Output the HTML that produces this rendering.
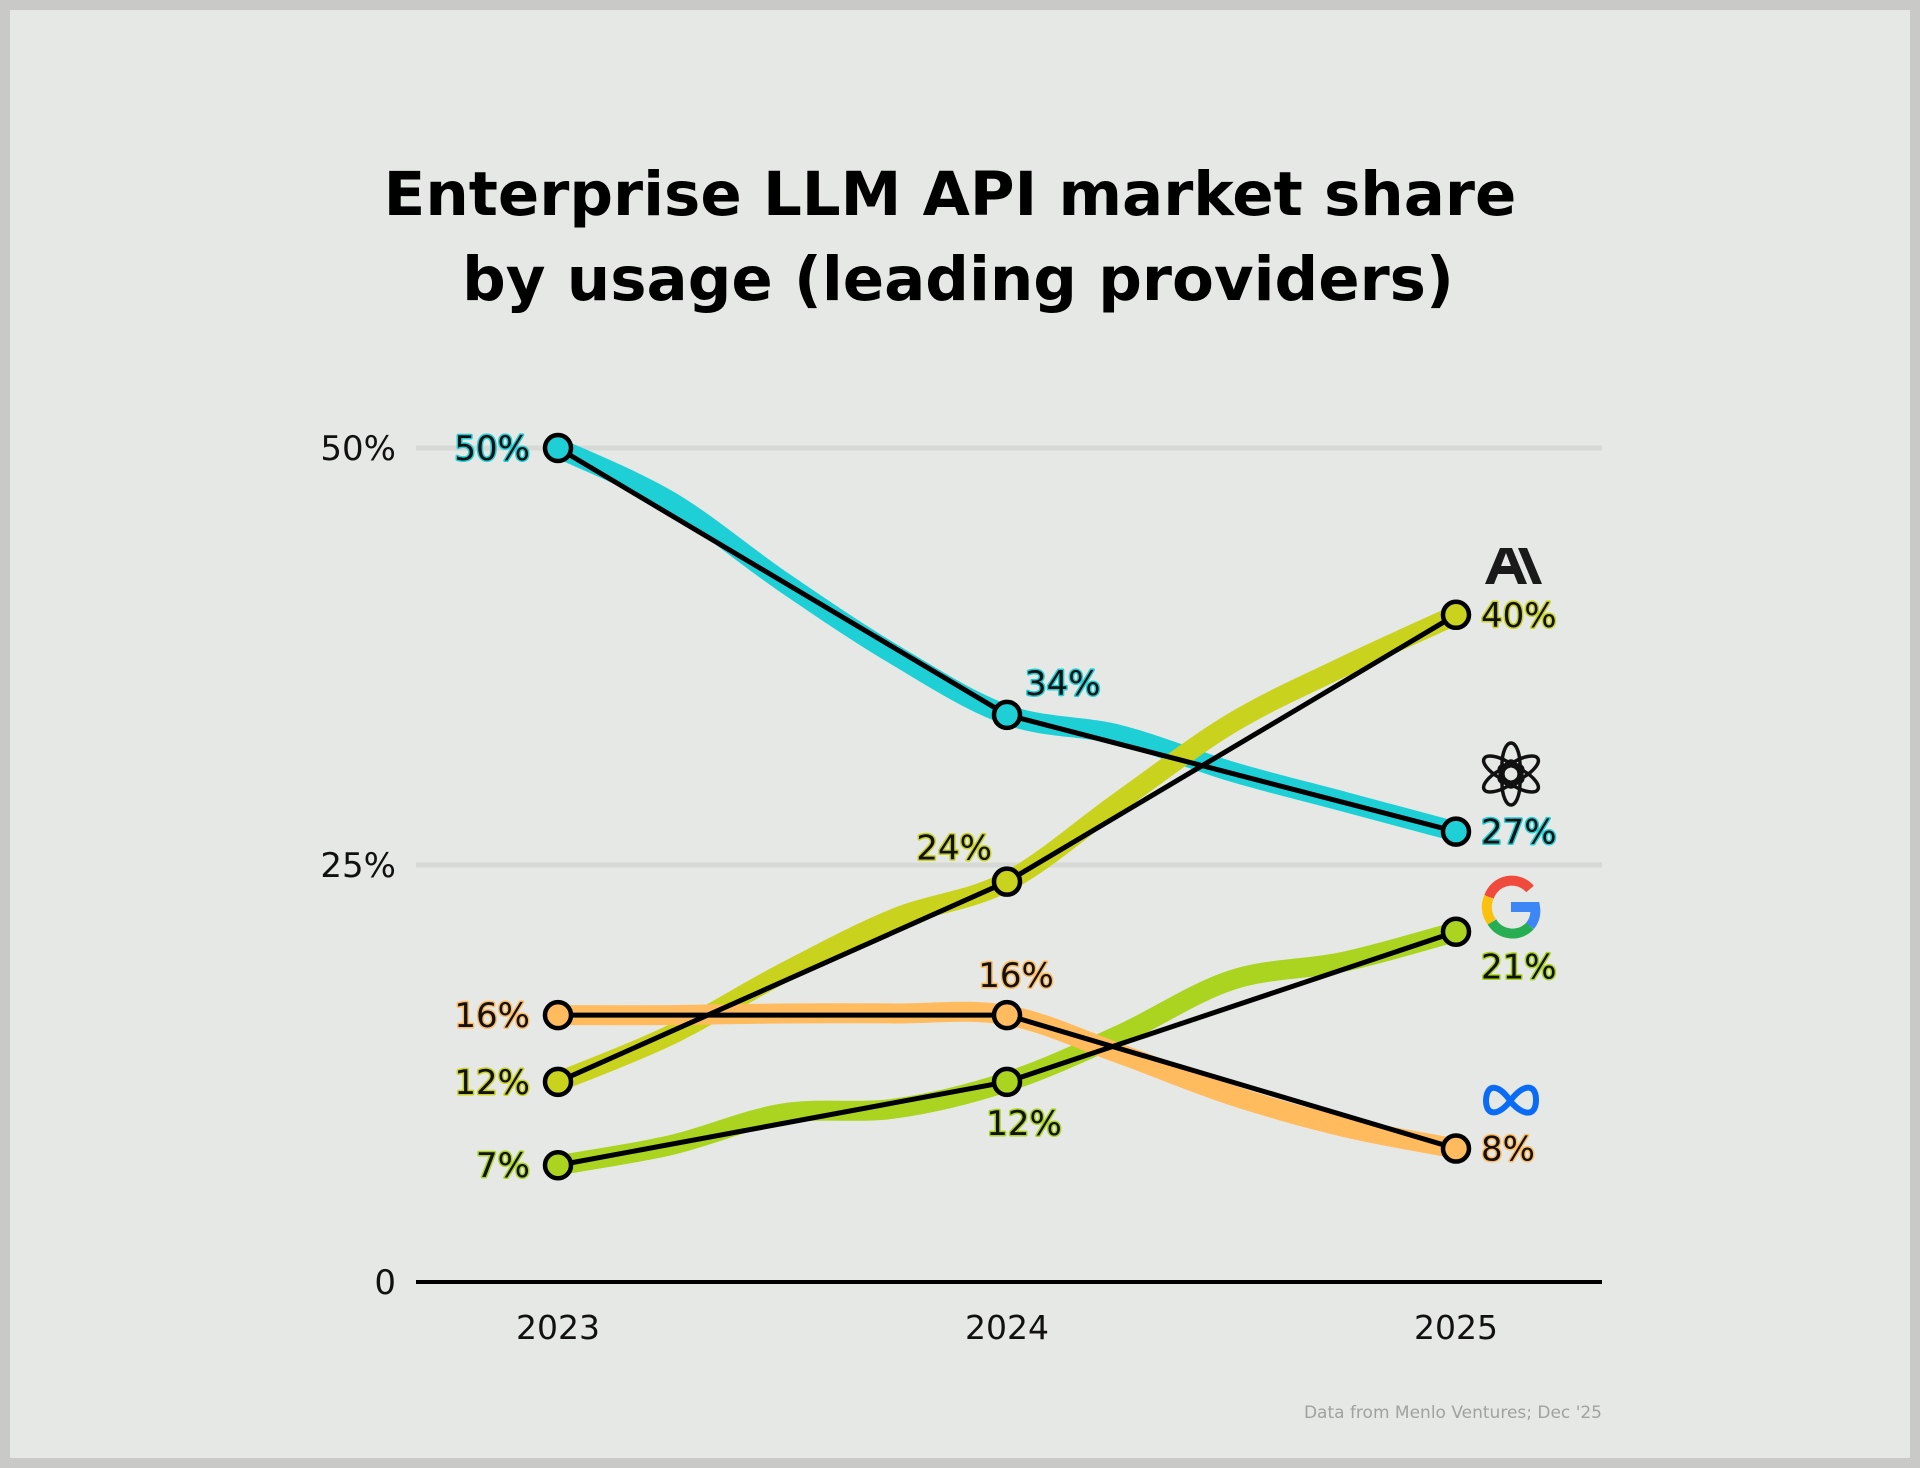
<!DOCTYPE html>
<html><head><meta charset="utf-8">
<style>
html,body{margin:0;padding:0;}
body{width:1920px;height:1468px;background:#c9c9c7;font-family:"DejaVu Sans","Liberation Sans",sans-serif;}
#frame{position:absolute;left:10px;top:10px;width:1900px;height:1448px;background:#e6e8e5;}
svg{position:absolute;left:0;top:0;}
.lbl{font-size:34px;fill:#111;paint-order:stroke;stroke-width:3px;stroke-linejoin:round;}
</style></head>
<body>
<div id="frame"></div>
<svg id="chart" width="1920" height="1468">
<text x="950" y="215" text-anchor="middle" font-size="61" font-weight="bold" fill="#000">Enterprise LLM API market share</text>
<text x="958" y="300" text-anchor="middle" font-size="61" font-weight="bold" fill="#000">by usage (leading providers)</text>
<g id="grid"></g><g id="bands"></g><g id="lines"></g><g id="labels"></g>
<text x="1602" y="1418" text-anchor="end" font-size="17" fill="#a0a2a0">Data from Menlo Ventures; Dec '25</text>
<g fill="#1a1a1a">
<path d="M1500 548 L1512 548 L1527 584 L1518 584 L1514 574 L1498 574 L1494 584 L1485 584 Z M1501 566 L1511 566 L1506 553 Z"/>
<path d="M1518 548 L1527 548 L1542 584 L1533 584 Z"/>
</g>
<g fill="none" stroke="#111" stroke-width="3.5">
<ellipse cx="1511" cy="765" rx="9" ry="22" transform="rotate(0 1511 774)"/>
<ellipse cx="1511" cy="765" rx="9" ry="22" transform="rotate(60 1511 774)"/>
<ellipse cx="1511" cy="765" rx="9" ry="22" transform="rotate(120 1511 774)"/>
<ellipse cx="1511" cy="765" rx="9" ry="22" transform="rotate(180 1511 774)"/>
<ellipse cx="1511" cy="765" rx="9" ry="22" transform="rotate(240 1511 774)"/>
<ellipse cx="1511" cy="765" rx="9" ry="22" transform="rotate(300 1511 774)"/>
</g>
<g fill="none" stroke-width="10">
<path d="M1530 889 A24 24 0 0 0 1489 897" stroke="#f04a3c"/>
<path d="M1489 897 A24 24 0 0 0 1492 922" stroke="#fbc10f"/>
<path d="M1492 922 A24 24 0 0 0 1530 926" stroke="#27ad52"/>
<path d="M1530 926 A24 24 0 0 0 1535 907 L1511 907" stroke="#3c86f5"/>
</g>
<path d="M1511 1102 C1500 1085 1487 1082 1486 1100 C1486 1118 1500 1115 1511 1100 C1522 1085 1536 1082 1536 1100 C1536 1118 1522 1115 1511 1102" fill="none" stroke="#0a6cf5" stroke-width="6"/>
</svg>
<script>
const years=['2023','2024','2025'];
const yTicks=[0,25,50];
const yTickLabels=['0','25%','50%'];
const openai=[50,34,27];
const anthropic=[12,24,40];
const google=[7,12,21];
const meta=[16,16,8];
const openaiTrend=[50,46.8,42,37.6,34,32.8,30.6,28.8,27];
const anthropicTrend=[12,14.8,18.5,21.8,24,28.8,33.5,36.9,40];
const googleTrend=[7,8.2,10.1,10.4,12,14.8,18.1,19.2,21];
const metaTrend=[16,16,16.1,16.1,16,13.7,11.2,9.3,8];
const NS='http://www.w3.org/2000/svg';
const x=i=>558+i*449;
const y=v=>1282-v*16.68;
function mk(tag,attrs,parent){const e=document.createElementNS(NS,tag);for(const k in attrs)e.setAttribute(k,attrs[k]);document.getElementById(parent).appendChild(e);return e;}
function smooth(pts){let d='M'+pts[0][0]+' '+pts[0][1];for(let i=0;i<pts.length-1;i++){const p0=pts[i-1]||pts[i],p1=pts[i],p2=pts[i+1],p3=pts[i+2]||p2;d+=' C'+(p1[0]+(p2[0]-p0[0])/6)+' '+(p1[1]+(p2[1]-p0[1])/6)+' '+(p2[0]-(p3[0]-p1[0])/6)+' '+(p2[1]-(p3[1]-p1[1])/6)+' '+p2[0]+' '+p2[1];}return d;}
yTicks.forEach((t,i)=>{
 const l=mk('line',{x1:416,x2:1602,y1:y(t),y2:y(t),stroke:t===0?'#000':'#d7d9d6','stroke-width':t===0?4:5},'grid');
 
 
 const tx=mk('text',{x:396,y:y(t)+12,'text-anchor':'end','font-size':34,fill:'#111'},'grid');tx.textContent=yTickLabels[i];
 
 
});
years.forEach((yr,i)=>{const tx=mk('text',{x:x(i),y:1339,'text-anchor':'middle','font-size':33,fill:'#111'},'grid');tx.textContent=yr;
 
 });
const series=[
 {name:'openai',vals:openai,trend:openaiTrend,color:'#1ecfd6',lab:[['end',-28,12],['start',18,-20],['start',25,12]]},
 {name:'anthropic',vals:anthropic,trend:anthropicTrend,color:'#c9d31d',lab:[['end',-28,12],['end',-15,-22],['start',25,12]]},
 {name:'google',vals:google,trend:googleTrend,color:'#aad41f',lab:[['end',-28,12],['middle',17,53],['start',25,47]]},
 {name:'meta',vals:meta,trend:metaTrend,color:'#ffbb5e',lab:[['end',-28,12],['middle',9,-28],['start',25,12]]}
];
series.forEach(s=>{
 const pts=s.trend.map((v,i)=>[x(i/4),y(v)]);
 const b=mk('path',{d:smooth(pts),fill:'none',stroke:s.color,'stroke-width':20,'stroke-linecap':'round'},'bands');
 
 
});
series.forEach(s=>{
 const l=mk('polyline',{points:s.vals.map((v,i)=>x(i)+','+y(v)).join(' '),fill:'none',stroke:'#000','stroke-width':5},'lines');
 
 
});
series.forEach(s=>{
 s.vals.forEach((v,i)=>{
  const c=mk('circle',{cx:x(i),cy:y(v),r:13,fill:s.color,stroke:'#000','stroke-width':4.5},'lines');
  
  
  const L=s.lab[i];
  const t=mk('text',{x:x(i)+L[1],y:y(v)+L[2],'text-anchor':L[0],class:'lbl',stroke:s.color},'labels');
  t.textContent=v+'%';
  
  
 });
});
</script>
</body></html>
